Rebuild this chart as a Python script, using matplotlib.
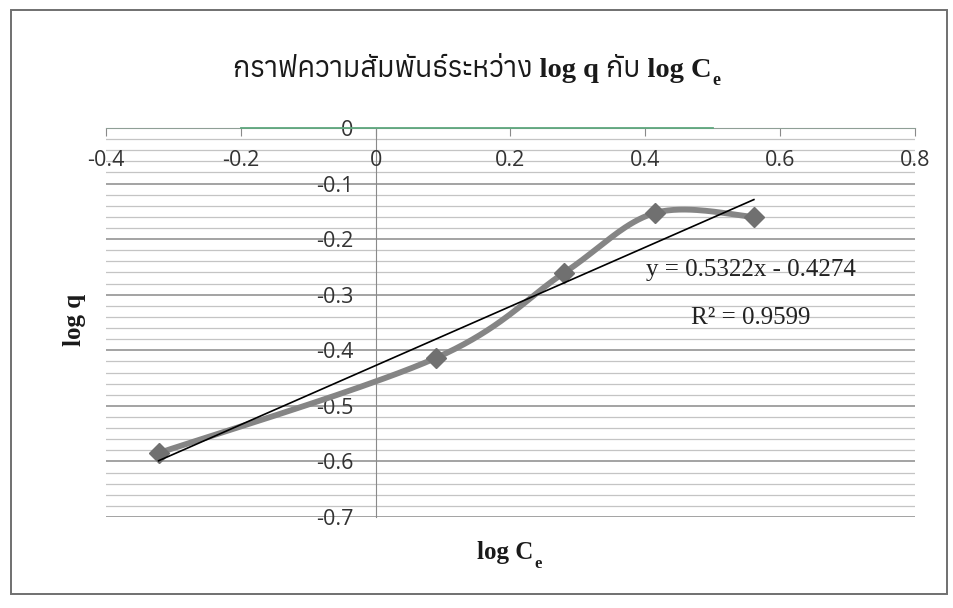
import matplotlib
matplotlib.use("Agg")
from matplotlib import pyplot as plt
from matplotlib import font_manager
from matplotlib.ft2font import FT2Font
from matplotlib.patches import Rectangle
from matplotlib.ticker import MultipleLocator
import matplotlib.transforms as mtransforms
import numpy as np

# log Ce vs log q (Freundlich isotherm)
log_ce = [-0.322, 0.089, 0.279, 0.414, 0.561]
log_q = [-0.585, -0.414, -0.261, -0.153, -0.160]

slope = 0.5322
intercept = -0.4274
r2 = 0.9599

x_ticks = [-0.4, -0.2, 0, 0.2, 0.4, 0.6, 0.8]
x_tick_labels = ['-0.4', '-0.2', '0', '0.2', '0.4', '0.6', '0.8']
y_ticks = [0, -0.1, -0.2, -0.3, -0.4, -0.5, -0.6, -0.7]
y_tick_labels = ['0', '-0.1', '-0.2', '-0.3', '-0.4', '-0.5', '-0.6', '-0.7']

title_text = 'กราฟความสัมพันธ์ระหว่าง log q กับ log C'


def fonts_with(char):
    names = []
    for f in font_manager.fontManager.ttflist:
        try:
            if ord(char) in FT2Font(f.fname).get_charmap():
                names.append(f.name)
        except Exception:
            pass
    return sorted(set(names))


thai = fonts_with('ก')
serif = ['Liberation Serif'] + thai + ['DejaVu Serif', 'DejaVu Sans']
sans = ['Open Sans', 'DejaVu Sans']
plt.rcParams['axes.unicode_minus'] = False


def smooth(xs, ys, n=40):
    # Catmull-Rom style bezier, like the "smoothed line" option in spreadsheets
    p = np.column_stack([xs, ys])
    p = np.vstack([p[0], p, p[-1]])
    t = np.linspace(0, 1, n)[:, None]
    out = []
    for i in range(1, len(p) - 2):
        p0, p1, p2, p3 = p[i - 1], p[i], p[i + 1], p[i + 2]
        c1 = p1 + (p2 - p0) / 6
        c2 = p2 - (p3 - p1) / 6
        seg = ((1 - t) ** 3) * p1 + 3 * ((1 - t) ** 2) * t * c1 + 3 * (1 - t) * t ** 2 * c2 + t ** 3 * p2
        out.append(seg)
    out = np.vstack(out)
    return out[:, 0], out[:, 1]


W, H = 954, 608
fig = plt.figure(figsize=(W / 100, H / 100), dpi=100)
fig.patch.set_facecolor('white')
fig.add_artist(Rectangle((11 / W, 1 - 594 / H), (947 - 11) / W, (594 - 10) / H,
                         transform=fig.transFigure, fill=False, ec='#707070', lw=1.4))

ax = fig.add_axes([106 / W, 1 - 517 / H, (915 - 106) / W, (517 - 128) / H])
ax.set_xlim(-0.4, 0.8)
ax.set_ylim(-0.7, 0)

# gridlines
ax.yaxis.set_major_locator(MultipleLocator(0.1))
ax.yaxis.set_minor_locator(MultipleLocator(0.02))
ax.grid(which='minor', axis='y', color='#c4c4c4', lw=0.9)
ax.grid(which='major', axis='y', color='#8a8a8a', lw=1.1)
ax.set_axisbelow(True)

# axes cross at zero
for s in ['right', 'bottom']:
    ax.spines[s].set_visible(False)
ax.spines['left'].set_position(('data', 0))
ax.spines['left'].set_color('#8a8a8a')
ax.spines['top'].set_color('#8f9f96')
ax.plot([-0.2, 0.5], [0, 0], color='#5fa77e', lw=1.3, clip_on=False, zorder=3)

ax.set_yticks(y_ticks)
ax.set_yticklabels(y_tick_labels, fontsize=15.5, family=sans, color='#333333')
ax.tick_params(axis='y', which='both', length=0, pad=16)

ax.set_xticks(x_ticks)
ax.xaxis.set_ticks_position('top')
ax.tick_params(axis='x', direction='in', length=6, color='#8a8a8a', labeltop=False, labelbottom=False)
lab_tr = mtransforms.offset_copy(ax.get_xaxis_transform(), fig=fig, y=-32, units='dots')
for xv, lab in zip(x_ticks, x_tick_labels):
    ax.text(xv, 1, lab, transform=lab_tr, ha='center', va='center',
            fontsize=15.5, family=sans, color='#333333')

# data
sx, sy = smooth(log_ce, log_q)
ax.plot(sx, sy, color='#858585', lw=4.2, solid_capstyle='round', zorder=4)
ax.plot(log_ce, log_q, ls='none', marker='D', ms=10, color='#707070', zorder=5)

# linear trendline
tx = np.array([min(log_ce), max(log_ce)])
ax.plot(tx, slope * tx + intercept, color='black', lw=1.2, zorder=6)
ax.text(0.401, -0.255, f'y = {slope}x - {abs(intercept)}', fontsize=18, family=serif,
        va='center', ha='left', color='#222222', zorder=7)
ax.text(0.468, -0.342, f'R² = {r2}', fontsize=18, family=serif,
        va='center', ha='left', color='#222222', zorder=7)

# title and axis titles
t = fig.text(472 / W, 1 - 68 / H, title_text, ha='center', va='center',
             fontsize=20.5, fontweight='bold', family=serif, color='#1a1a1a')
ax.annotate('e', xy=(1, 0), xycoords=t, xytext=(1, 2), textcoords='offset points',
            ha='left', va='center', fontsize=13, fontweight='bold', family=serif,
            color='#1a1a1a', annotation_clip=False)

fig.text(75 / W, 1 - 320 / H, 'log q', rotation=90, ha='center', va='center',
         fontsize=18, fontweight='bold', family=serif, color='#1a1a1a')
xl = fig.text(505 / W, 1 - 553 / H, 'log C', ha='center', va='center',
              fontsize=18, fontweight='bold', family=serif, color='#1a1a1a')
ax.annotate('e', xy=(1, 0), xycoords=xl, xytext=(1, 0), textcoords='offset points',
            ha='left', va='center', fontsize=12, fontweight='bold', family=serif,
            color='#1a1a1a', annotation_clip=False)

fig.savefig('out.png', dpi=100)
